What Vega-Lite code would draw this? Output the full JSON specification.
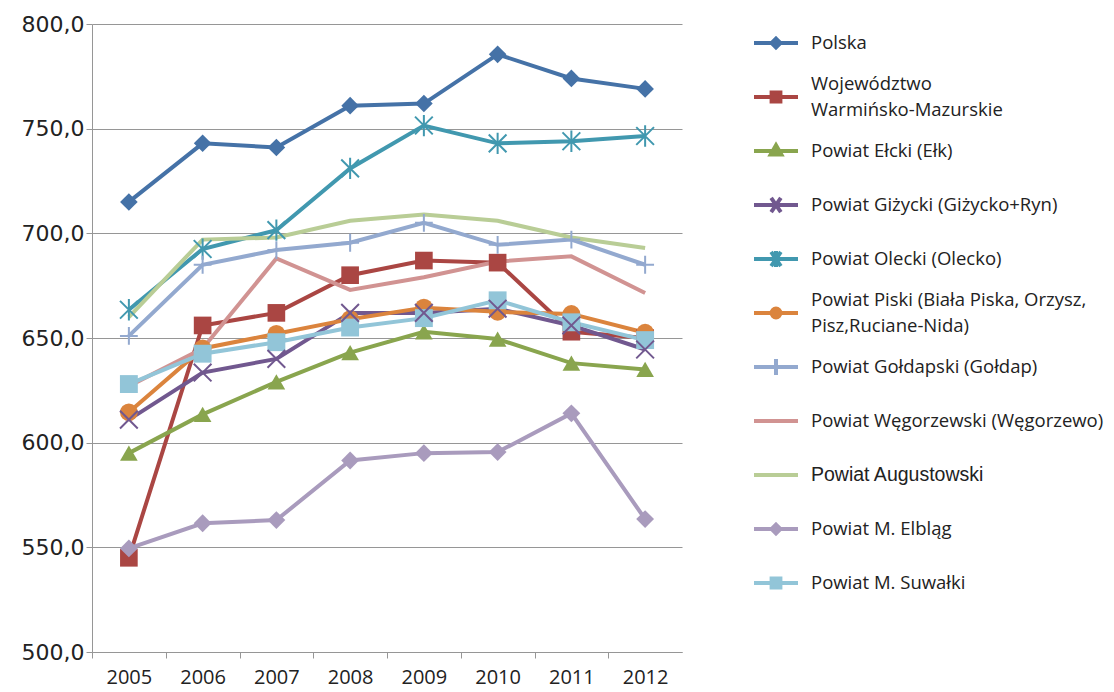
{
  "$schema": "https://vega.github.io/schema/vega-lite/v6.json",
  "width": 590,
  "height": 628,
  "autosize": {"type": "none"},
  "padding": {"left": 92, "top": 24, "right": 432, "bottom": 40},
  "background": "white",
  "config": {"view": {"stroke": null}},
  "data": {"values": [
    {"year": "2005", "series": "Polska", "value": 715},
    {"year": "2006", "series": "Polska", "value": 743},
    {"year": "2007", "series": "Polska", "value": 741},
    {"year": "2008", "series": "Polska", "value": 761},
    {"year": "2009", "series": "Polska", "value": 762},
    {"year": "2010", "series": "Polska", "value": 785.5},
    {"year": "2011", "series": "Polska", "value": 774},
    {"year": "2012", "series": "Polska", "value": 769},
    {"year": "2005", "series": "Województwo Warmińsko-Mazurskie", "value": 545},
    {"year": "2006", "series": "Województwo Warmińsko-Mazurskie", "value": 656},
    {"year": "2007", "series": "Województwo Warmińsko-Mazurskie", "value": 662},
    {"year": "2008", "series": "Województwo Warmińsko-Mazurskie", "value": 680},
    {"year": "2009", "series": "Województwo Warmińsko-Mazurskie", "value": 687},
    {"year": "2010", "series": "Województwo Warmińsko-Mazurskie", "value": 686},
    {"year": "2011", "series": "Województwo Warmińsko-Mazurskie", "value": 653},
    {"year": "2012", "series": "Województwo Warmińsko-Mazurskie", "value": 650},
    {"year": "2005", "series": "Powiat Ełcki (Ełk)", "value": 595},
    {"year": "2006", "series": "Powiat Ełcki (Ełk)", "value": 613.5},
    {"year": "2007", "series": "Powiat Ełcki (Ełk)", "value": 629},
    {"year": "2008", "series": "Powiat Ełcki (Ełk)", "value": 643},
    {"year": "2009", "series": "Powiat Ełcki (Ełk)", "value": 653},
    {"year": "2010", "series": "Powiat Ełcki (Ełk)", "value": 649.5},
    {"year": "2011", "series": "Powiat Ełcki (Ełk)", "value": 638},
    {"year": "2012", "series": "Powiat Ełcki (Ełk)", "value": 635},
    {"year": "2005", "series": "Powiat Giżycki (Giżycko+Ryn)", "value": 611},
    {"year": "2006", "series": "Powiat Giżycki (Giżycko+Ryn)", "value": 633.5},
    {"year": "2007", "series": "Powiat Giżycki (Giżycko+Ryn)", "value": 640},
    {"year": "2008", "series": "Powiat Giżycki (Giżycko+Ryn)", "value": 662},
    {"year": "2009", "series": "Powiat Giżycki (Giżycko+Ryn)", "value": 662},
    {"year": "2010", "series": "Powiat Giżycki (Giżycko+Ryn)", "value": 664},
    {"year": "2011", "series": "Powiat Giżycki (Giżycko+Ryn)", "value": 656},
    {"year": "2012", "series": "Powiat Giżycki (Giżycko+Ryn)", "value": 644.5},
    {"year": "2005", "series": "Powiat Olecki (Olecko)", "value": 663.5},
    {"year": "2006", "series": "Powiat Olecki (Olecko)", "value": 692.5},
    {"year": "2007", "series": "Powiat Olecki (Olecko)", "value": 701.5},
    {"year": "2008", "series": "Powiat Olecki (Olecko)", "value": 731},
    {"year": "2009", "series": "Powiat Olecki (Olecko)", "value": 751.5},
    {"year": "2010", "series": "Powiat Olecki (Olecko)", "value": 743},
    {"year": "2011", "series": "Powiat Olecki (Olecko)", "value": 744},
    {"year": "2012", "series": "Powiat Olecki (Olecko)", "value": 746.5},
    {"year": "2005", "series": "Powiat Piski (Biała Piska, Orzysz, Pisz,Ruciane-Nida)", "value": 614.5},
    {"year": "2006", "series": "Powiat Piski (Biała Piska, Orzysz, Pisz,Ruciane-Nida)", "value": 645},
    {"year": "2007", "series": "Powiat Piski (Biała Piska, Orzysz, Pisz,Ruciane-Nida)", "value": 652},
    {"year": "2008", "series": "Powiat Piski (Biała Piska, Orzysz, Pisz,Ruciane-Nida)", "value": 659},
    {"year": "2009", "series": "Powiat Piski (Biała Piska, Orzysz, Pisz,Ruciane-Nida)", "value": 664.5},
    {"year": "2010", "series": "Powiat Piski (Biała Piska, Orzysz, Pisz,Ruciane-Nida)", "value": 662.5},
    {"year": "2011", "series": "Powiat Piski (Biała Piska, Orzysz, Pisz,Ruciane-Nida)", "value": 661.5},
    {"year": "2012", "series": "Powiat Piski (Biała Piska, Orzysz, Pisz,Ruciane-Nida)", "value": 652.5},
    {"year": "2005", "series": "Powiat Gołdapski (Gołdap)", "value": 651},
    {"year": "2006", "series": "Powiat Gołdapski (Gołdap)", "value": 685},
    {"year": "2007", "series": "Powiat Gołdapski (Gołdap)", "value": 692},
    {"year": "2008", "series": "Powiat Gołdapski (Gołdap)", "value": 695.5},
    {"year": "2009", "series": "Powiat Gołdapski (Gołdap)", "value": 705},
    {"year": "2010", "series": "Powiat Gołdapski (Gołdap)", "value": 694.5},
    {"year": "2011", "series": "Powiat Gołdapski (Gołdap)", "value": 697},
    {"year": "2012", "series": "Powiat Gołdapski (Gołdap)", "value": 685},
    {"year": "2005", "series": "Powiat Węgorzewski (Węgorzewo)", "value": 627},
    {"year": "2006", "series": "Powiat Węgorzewski (Węgorzewo)", "value": 645},
    {"year": "2007", "series": "Powiat Węgorzewski (Węgorzewo)", "value": 688},
    {"year": "2008", "series": "Powiat Węgorzewski (Węgorzewo)", "value": 673},
    {"year": "2009", "series": "Powiat Węgorzewski (Węgorzewo)", "value": 679},
    {"year": "2010", "series": "Powiat Węgorzewski (Węgorzewo)", "value": 686.5},
    {"year": "2011", "series": "Powiat Węgorzewski (Węgorzewo)", "value": 689},
    {"year": "2012", "series": "Powiat Węgorzewski (Węgorzewo)", "value": 671.5},
    {"year": "2005", "series": "Powiat Augustowski", "value": 660},
    {"year": "2006", "series": "Powiat Augustowski", "value": 697},
    {"year": "2007", "series": "Powiat Augustowski", "value": 698},
    {"year": "2008", "series": "Powiat Augustowski", "value": 706},
    {"year": "2009", "series": "Powiat Augustowski", "value": 709},
    {"year": "2010", "series": "Powiat Augustowski", "value": 706},
    {"year": "2011", "series": "Powiat Augustowski", "value": 698},
    {"year": "2012", "series": "Powiat Augustowski", "value": 693},
    {"year": "2005", "series": "Powiat M. Elbląg", "value": 549.5},
    {"year": "2006", "series": "Powiat M. Elbląg", "value": 561.5},
    {"year": "2007", "series": "Powiat M. Elbląg", "value": 563},
    {"year": "2008", "series": "Powiat M. Elbląg", "value": 591.5},
    {"year": "2009", "series": "Powiat M. Elbląg", "value": 595},
    {"year": "2010", "series": "Powiat M. Elbląg", "value": 595.5},
    {"year": "2011", "series": "Powiat M. Elbląg", "value": 614},
    {"year": "2012", "series": "Powiat M. Elbląg", "value": 563.5},
    {"year": "2005", "series": "Powiat M. Suwałki", "value": 628},
    {"year": "2006", "series": "Powiat M. Suwałki", "value": 642.5},
    {"year": "2007", "series": "Powiat M. Suwałki", "value": 648},
    {"year": "2008", "series": "Powiat M. Suwałki", "value": 655},
    {"year": "2009", "series": "Powiat M. Suwałki", "value": 659.5},
    {"year": "2010", "series": "Powiat M. Suwałki", "value": 668},
    {"year": "2011", "series": "Powiat M. Suwałki", "value": 657.5},
    {"year": "2012", "series": "Powiat M. Suwałki", "value": 649}
  ]},
  "encoding": {
    "x": {
      "field": "year", "type": "ordinal",
      "scale": {"type": "point", "padding": 0.5},
      "axis": {
        "title": null, "grid": false,
        "labelFont": "Open Sans", "labelFontSize": 20, "labelColor": "#222222",
        "labelAngle": 0, "labelPadding": 9,
        "domainColor": "#969696", "tickColor": "#969696", "tickSize": 6,
        "tickOffset": -36.875, "labelOffset": 36.875
      }
    },
    "y": {
      "field": "value", "type": "quantitative",
      "scale": {"domain": [500, 800], "nice": false, "zero": false},
      "axis": {
        "title": null, "values": [500, 550, 600, 650, 700, 750, 800],
        "grid": true, "gridColor": "#969696", "gridWidth": 1,
        "domainColor": "#969696", "tickColor": "#969696", "tickSize": 6,
        "labelFont": "DejaVu Sans", "labelFontSize": 22, "labelColor": "#222222",
        "labelPadding": 2,
        "labelExpr": "replace(format(datum.value, '.1f'), '.', ',')"
      }
    }
  },
  "layer": [
    {
      "mark": {"type": "line", "strokeWidth": 4},
      "encoding": {
        "color": {
          "field": "series", "type": "nominal",
          "scale": {
            "domain": ["Polska", "Województwo Warmińsko-Mazurskie", "Powiat Ełcki (Ełk)", "Powiat Giżycki (Giżycko+Ryn)", "Powiat Olecki (Olecko)", "Powiat Piski (Biała Piska, Orzysz, Pisz,Ruciane-Nida)", "Powiat Gołdapski (Gołdap)", "Powiat Węgorzewski (Węgorzewo)", "Powiat Augustowski", "Powiat M. Elbląg", "Powiat M. Suwałki"],
            "range": ["#4572A7", "#AA4643", "#89A54E", "#71588F", "#4198AF", "#DB843D", "#93A9CF", "#D19392", "#B9CD96", "#A99BBD", "#92C5D8"]
          },
          "legend": {
            "orient": "none", "legendX": 660, "legendY": -5,
            "title": null, "padding": 0,
            "symbolSize": 1936, "symbolStrokeWidth": 4,
            "labelFont": "Open Sans", "labelFontSize": 18.5, "labelColor": "#222222",
            "labelLimit": 400, "labelOffset": 11, "rowPadding": 6,
            "labelExpr": "datum.label == 'Województwo Warmińsko-Mazurskie' ? ['Województwo', 'Warmińsko-Mazurskie'] : (datum.label == 'Powiat Piski (Biała Piska, Orzysz, Pisz,Ruciane-Nida)' ? ['Powiat Piski (Biała Piska, Orzysz,', 'Pisz,Ruciane-Nida)'] : datum.label)",
            "encode": {
              "symbols": {"update": {
                "shape": {"signal": "'M0,-0.7L0,-0.7M0,0.7L0,0.7' + ['M-1,0L1,0M0,-0.2L0.2,0L0,0.2L-0.2,0Z', 'M-1,0L1,0M-0.2,-0.2L0.2,-0.2L0.2,0.2L-0.2,0.2Z', 'M-1,0L1,0M0,-0.26L0.24,0.16L-0.24,0.16Z', 'M-1,0L1,0M-0.22,-0.32L0.22,0.32M-0.22,0.32L0.22,-0.32', 'M-1,0L1,0M-0.22,-0.32L0.22,0.32M-0.22,0.32L0.22,-0.32M0,-0.36L0,0.36', 'M-1,0L1,0M0.2,0A0.2,0.2 0 1,1 -0.2,0A0.2,0.2 0 1,1 0.2,0Z', 'M-1,0L1,0M0,-0.36L0,0.36', 'M-1,0L1,0', 'M-1,0L1,0', 'M-1,0L1,0M0,-0.2L0.2,0L0,0.2L-0.2,0Z', 'M-1,0L1,0M-0.2,-0.2L0.2,-0.2L0.2,0.2L-0.2,0.2Z'][indexof(['Polska', 'Województwo Warmińsko-Mazurskie', 'Powiat Ełcki (Ełk)', 'Powiat Giżycki (Giżycko+Ryn)', 'Powiat Olecki (Olecko)', 'Powiat Piski (Biała Piska, Orzysz, Pisz,Ruciane-Nida)', 'Powiat Gołdapski (Gołdap)', 'Powiat Węgorzewski (Węgorzewo)', 'Powiat Augustowski', 'Powiat M. Elbląg', 'Powiat M. Suwałki'], datum.value)]"},
                "fill": {"signal": "scale('color', datum.value)"},
                "stroke": {"signal": "scale('color', datum.value)"},
                "opacity": {"value": 1}
              }},
              "labels": {"update": {
                "font": {"signal": "datum.value == 'Powiat Augustowski' ? 'Liberation Sans' : 'Open Sans'"},
                "fontSize": {"signal": "datum.value == 'Powiat Augustowski' ? 19.5 : 18.5"},
                "lineHeight": {"value": 26},
                "dy": {"signal": "(datum.value == 'Województwo Warmińsko-Mazurskie' || datum.value == 'Powiat Piski (Biała Piska, Orzysz, Pisz,Ruciane-Nida)') ? -13 : 0"}
              }}
            }
          }
        }
      }
    },
    {
      "transform": [{"filter": {"field": "series", "oneOf": ["Polska", "Województwo Warmińsko-Mazurskie", "Powiat Ełcki (Ełk)", "Powiat Piski (Biała Piska, Orzysz, Pisz,Ruciane-Nida)", "Powiat M. Elbląg", "Powiat M. Suwałki"]}}],
      "mark": {"type": "point", "filled": true, "opacity": 1},
      "encoding": {
        "color": {"field": "series", "type": "nominal", "legend": null},
        "shape": {
          "field": "series", "type": "nominal", "legend": null,
          "scale": {
            "domain": ["Polska", "Województwo Warmińsko-Mazurskie", "Powiat Ełcki (Ełk)", "Powiat Giżycki (Giżycko+Ryn)", "Powiat Olecki (Olecko)", "Powiat Piski (Biała Piska, Orzysz, Pisz,Ruciane-Nida)", "Powiat Gołdapski (Gołdap)", "Powiat M. Elbląg", "Powiat M. Suwałki"],
            "range": ["diamond", "square", "triangle-up", "M-1,-1L1,1M-1,1L1,-1", "M-1,-1L1,1M-1,1L1,-1M0,-1.2L0,1.2", "circle", "M0,-1L0,1M-1,0L1,0", "diamond", "square"]
          }
        },
        "size": {
          "field": "series", "type": "nominal", "legend": null,
          "scale": {
            "domain": ["Polska", "Województwo Warmińsko-Mazurskie", "Powiat Ełcki (Ełk)", "Powiat Giżycki (Giżycko+Ryn)", "Powiat Olecki (Olecko)", "Powiat Piski (Biała Piska, Orzysz, Pisz,Ruciane-Nida)", "Powiat Gołdapski (Gołdap)", "Powiat M. Elbląg", "Powiat M. Suwałki"],
            "range": [310, 320, 330, 200, 260, 300, 220, 290, 280]
          }
        }
      }
    },
    {
      "transform": [{"filter": {"field": "series", "oneOf": ["Powiat Giżycki (Giżycko+Ryn)", "Powiat Olecki (Olecko)", "Powiat Gołdapski (Gołdap)"]}}],
      "mark": {"type": "point", "filled": false, "opacity": 1, "strokeWidth": 2},
      "encoding": {
        "color": {"field": "series", "type": "nominal", "legend": null},
        "shape": {"field": "series", "type": "nominal", "legend": null},
        "size": {"field": "series", "type": "nominal", "legend": null}
      }
    }
  ]
}
